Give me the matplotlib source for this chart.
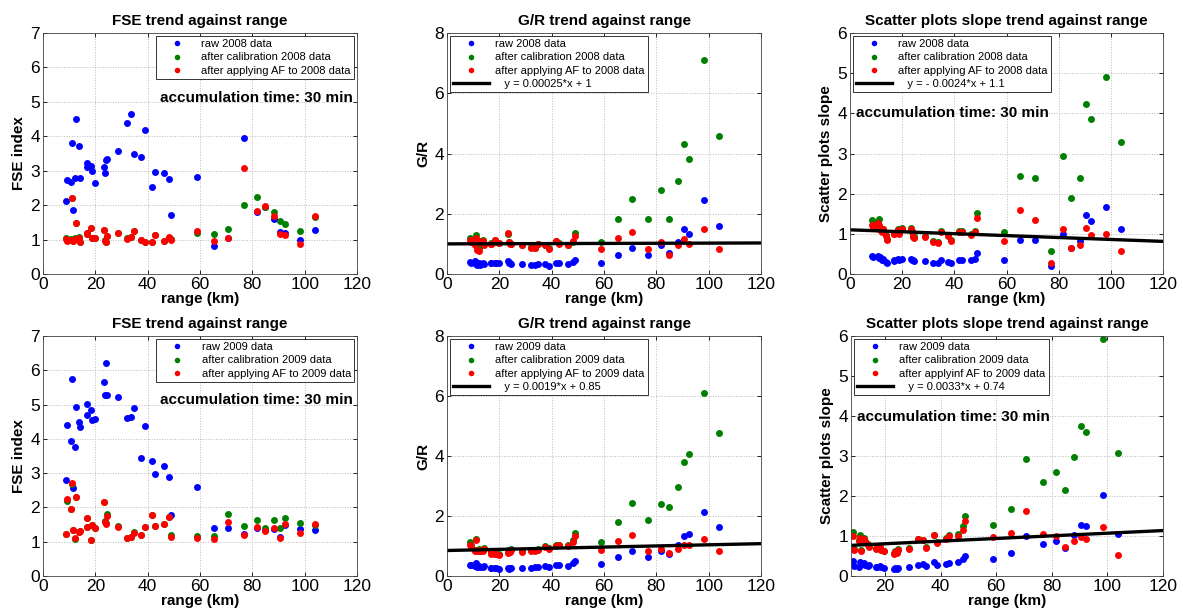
import numpy as np
import matplotlib
matplotlib.use("Agg")
import matplotlib.pyplot as plt

plt.rcParams['font.family'] = ['Liberation Sans', 'DejaVu Sans']

# station ranges (km), shared by all panels
ranges = [8.6, 9.0, 10.6, 11.1, 11.4, 12.4, 12.7, 13.9, 14.1, 16.7,
          17.0, 18.3, 18.6, 19.8, 23.2, 23.6, 24.2, 24.6, 28.8, 32.0,
          33.7, 34.8, 37.6, 38.8, 41.8, 42.9, 46.4, 48.1, 48.8, 58.9,
          65.2, 70.8, 76.9, 81.7, 84.9, 88.1, 90.5, 92.3, 98.3, 103.8]

# ---------------- 2008 ----------------
fse08_raw = [2.11, 2.74, 2.66, 3.80, 1.85, 2.79, 4.50, 3.71, 2.78, 3.21,
             3.12, 3.13, 3.00, 2.63, 3.10, 2.93, 3.30, 3.35, 3.56, 4.39,
             4.65, 3.48, 3.39, 4.17, 2.53, 2.95, 2.92, 2.75, 1.70, 2.81,
             0.81, 1.05, 3.96, 1.80, 1.95, 1.60, 1.21, 1.19, 1.00, 1.28]
fse08_cal = [1.05, 0.98, 1.01, 2.20, 0.96, 1.04, 1.47, 1.07, 0.94, 1.16,
             1.18, 1.34, 1.06, 1.05, 1.29, 0.98, 0.94, 1.11, 1.18, 1.05,
             1.07, 1.24, 0.99, 0.93, 0.93, 1.14, 0.96, 1.06, 1.01, 1.20,
             1.17, 1.31, 1.99, 2.25, 1.95, 1.79, 1.53, 1.45, 1.25, 1.66]
fse08_af = [1.03, 0.97, 1.00, 2.22, 0.95, 1.03, 1.47, 1.06, 0.93, 1.15,
            1.18, 1.34, 1.05, 1.05, 1.29, 0.97, 0.93, 1.11, 1.18, 1.03,
            1.07, 1.24, 0.98, 0.92, 0.92, 1.14, 0.95, 1.08, 1.00, 1.26,
            0.96, 1.06, 3.08, 1.82, 1.98, 1.68, 1.15, 1.13, 0.88, 1.69]

gr08_raw = [0.40, 0.38, 0.42, 0.33, 0.30, 0.36, 0.30, 0.38, 0.33, 0.35,
            0.36, 0.38, 0.35, 0.37, 0.42, 0.38, 0.35, 0.33, 0.32, 0.29,
            0.30, 0.33, 0.33, 0.27, 0.37, 0.35, 0.34, 0.40, 0.46, 0.37,
            0.63, 0.86, 0.64, 0.97, 0.70, 1.07, 1.49, 1.32, 2.45, 1.58]
gr08_cal = [1.20, 1.08, 1.00, 1.30, 0.88, 0.85, 1.10, 1.12, 0.98, 1.00,
            1.02, 1.12, 1.06, 1.03, 1.33, 1.06, 1.02, 0.99, 0.97, 0.88,
            0.87, 1.01, 0.97, 0.86, 1.10, 1.02, 0.97, 1.05, 1.37, 1.07,
            1.82, 2.49, 1.84, 2.80, 1.83, 3.10, 4.31, 3.81, 7.10, 4.58]
gr08_af = [1.12, 1.05, 0.95, 1.20, 0.80, 0.78, 1.05, 1.10, 0.95, 0.98,
           1.00, 1.12, 1.05, 1.02, 1.35, 1.05, 1.00, 0.98, 0.95, 0.85,
           0.85, 1.00, 0.95, 0.83, 1.08, 1.00, 0.95, 1.10, 1.25, 0.82,
           1.20, 1.40, 0.84, 1.06, 0.63, 0.95, 1.17, 0.98, 1.48, 0.83]

slope08_raw = [0.45, 0.42, 0.45, 0.40, 0.43, 0.35, 0.38, 0.30, 0.28, 0.33,
               0.35, 0.37, 0.35, 0.38, 0.38, 0.35, 0.34, 0.32, 0.32, 0.27,
               0.28, 0.35, 0.30, 0.27, 0.36, 0.35, 0.35, 0.37, 0.52, 0.36,
               0.84, 0.84, 0.20, 1.00, 0.65, 0.83, 1.46, 1.33, 1.68, 1.13]
slope08_cal = [1.35, 1.18, 1.30, 1.37, 1.15, 1.10, 1.13, 0.97, 0.87, 1.01,
               1.02, 1.11, 1.02, 1.14, 1.15, 1.06, 0.95, 0.94, 0.94, 0.81,
               0.79, 1.06, 0.96, 0.84, 1.06, 1.06, 1.00, 1.08, 1.51, 1.05,
               2.44, 2.40, 0.58, 2.93, 1.88, 2.38, 4.24, 3.87, 4.90, 3.28]
slope08_af = [1.22, 1.15, 1.27, 1.22, 1.10, 1.05, 1.12, 0.95, 0.85, 1.00,
              1.00, 1.10, 1.00, 1.13, 1.13, 1.05, 0.92, 0.90, 0.92, 0.80,
              0.78, 1.05, 0.95, 0.82, 1.05, 1.05, 0.98, 1.05, 1.40, 0.82,
              1.60, 1.35, 0.27, 1.12, 0.65, 0.72, 1.15, 0.98, 1.00, 0.58]

# ---------------- 2009 ----------------
fse09_raw = [2.80, 4.40, 3.95, 5.74, 2.56, 3.77, 4.94, 4.48, 4.34, 5.03,
             4.69, 4.84, 4.55, 4.59, 5.67, 5.28, 6.22, 5.28, 5.23, 4.60,
             4.63, 4.89, 3.43, 4.38, 3.36, 2.97, 3.22, 2.90, 1.77, 2.60,
             1.39, 1.41, 1.22, 1.40, 1.35, 1.38, 1.15, 1.50, 1.36, 1.33]
fse09_cal = [1.22, 2.18, 1.95, 2.67, 1.34, 1.08, 2.29, 1.28, 1.32, 1.68,
             1.44, 1.05, 1.48, 1.41, 2.15, 1.60, 1.55, 1.82, 1.47, 1.10,
             1.15, 1.27, 1.20, 1.44, 1.78, 1.46, 1.51, 1.73, 1.20, 1.18,
             1.18, 1.81, 1.46, 1.63, 1.40, 1.63, 1.40, 1.68, 1.56, 1.48]
fse09_af = [1.22, 2.24, 1.95, 2.72, 1.34, 1.10, 2.29, 1.28, 1.32, 1.68,
            1.44, 1.05, 1.48, 1.41, 2.17, 1.58, 1.51, 1.75, 1.42, 1.10,
            1.13, 1.25, 1.20, 1.44, 1.78, 1.46, 1.51, 1.73, 1.15, 1.10,
            1.07, 1.58, 1.20, 1.44, 1.31, 1.39, 1.10, 1.51, 1.26, 1.52]

gr09_raw = [0.38, 0.36, 0.33, 0.42, 0.30, 0.35, 0.30, 0.30, 0.32, 0.27,
            0.28, 0.26, 0.28, 0.24, 0.27, 0.25, 0.28, 0.28, 0.27, 0.27,
            0.29, 0.29, 0.33, 0.30, 0.36, 0.36, 0.35, 0.42, 0.50, 0.40,
            0.62, 0.85, 0.65, 0.84, 0.75, 1.05, 1.32, 1.40, 2.12, 1.65]
gr09_cal = [1.12, 1.02, 0.87, 1.25, 0.87, 0.90, 0.84, 0.87, 0.92, 0.77,
            0.82, 0.77, 0.74, 0.72, 0.80, 0.87, 0.82, 0.90, 0.82, 0.87,
            0.87, 0.90, 1.00, 0.92, 1.02, 1.04, 1.02, 1.20, 1.43, 1.12,
            1.79, 2.44, 1.87, 2.40, 2.31, 2.98, 3.79, 4.06, 6.09, 4.76]
gr09_af = [1.02, 1.00, 0.85, 1.20, 0.85, 0.88, 0.82, 0.85, 0.90, 0.75,
           0.80, 0.75, 0.72, 0.70, 0.78, 0.85, 0.80, 0.88, 0.80, 0.85,
           0.85, 0.88, 0.98, 0.90, 1.00, 1.02, 1.00, 1.15, 1.32, 0.86,
           1.18, 1.37, 0.85, 0.90, 0.78, 0.90, 1.02, 1.02, 1.25, 0.85]

slope09_raw = [0.37, 0.25, 0.22, 0.35, 0.30, 0.33, 0.28, 0.25, 0.27, 0.22,
               0.22, 0.24, 0.22, 0.20, 0.18, 0.20, 0.18, 0.19, 0.22, 0.28,
               0.30, 0.25, 0.35, 0.28, 0.30, 0.33, 0.35, 0.42, 0.50, 0.43,
               0.57, 1.00, 0.80, 0.88, 0.70, 1.02, 1.27, 1.25, 2.03, 1.05]
slope09_cal = [1.10, 0.68, 0.90, 1.03, 0.64, 0.94, 0.88, 0.80, 0.74, 0.69,
               0.71, 0.73, 0.66, 0.63, 0.58, 0.62, 0.60, 0.67, 0.70, 0.93,
               0.91, 0.72, 1.03, 0.84, 0.94, 1.02, 1.05, 1.24, 1.51, 1.27,
               1.68, 2.92, 2.35, 2.61, 2.16, 2.98, 3.74, 3.61, 5.92, 3.08]
slope09_af = [1.00, 0.65, 0.88, 0.95, 0.62, 0.92, 0.85, 0.78, 0.72, 0.68,
              0.70, 0.72, 0.65, 0.62, 0.55, 0.60, 0.58, 0.65, 0.68, 0.92,
              0.90, 0.70, 1.02, 0.82, 0.92, 1.00, 1.00, 1.15, 1.38, 0.97,
              1.08, 1.63, 1.05, 1.00, 0.72, 0.88, 0.98, 0.92, 1.22, 0.53]

# linear fits (slope, intercept) quoted in the legends
fit_gr08 = [0.00025, 1.0]
fit_slope08 = [-0.0024, 1.1]
fit_gr09 = [0.0019, 0.85]
fit_slope09 = [0.0033, 0.74]

W, H = 1183, 614
fig = plt.figure(figsize=(W / 100, H / 100), dpi=100)


def box(x0, y0, x1, y1):
    # pixel box -> figure fraction rect
    return [x0 / W, 1 - y1 / H, (x1 - x0) / W, (y1 - y0) / H]


def panel(rect, raw, cal, af, year, title, ylabel, ylim, ystep, fit=None,
          fit_label=None, af_word='applying', legend_loc='upper right',
          note=None, xlim=(0, 120)):
    ax = fig.add_axes(rect)
    ms = 5
    ax.plot(ranges, raw, 'o', color='#0000ff', ms=ms, mec='none',
            label='raw %d data' % year)
    ax.plot(ranges, cal, 'o', color='#008000', ms=ms, mec='none',
            label='after calibration %d data' % year)
    ax.plot(ranges, af, 'o', color='#ff0000', ms=ms, mec='none',
            label='after %s AF to %d data' % (af_word, year))
    if fit is not None:
        xx = np.array([xlim[0], 120])
        ax.plot(xx, np.polyval(fit, xx), color='black', lw=2.4, label=fit_label)
    ax.set_xlim(*xlim)
    ax.set_ylim(*ylim)
    ax.set_xticks([x for x in range(0, 121, 20) if x >= xlim[0]])
    ax.set_yticks(np.arange(ylim[0], ylim[1] + 0.01, ystep))
    ax.grid(True, ls=':', color='#bbbbbb', lw=0.7)
    ax.tick_params(direction='in', length=3, labelsize=12.5, width=0.6,
                   top=True, right=True, pad=2)
    for s in ax.spines.values():
        s.set_linewidth(0.6)
        s.set_color('#444444')
    ax.set_title(title, fontsize=11, fontweight='bold', pad=6)
    ax.set_ylabel(ylabel, fontsize=11, fontweight='bold', labelpad=3)
    ax.set_xlabel('range (km)', fontsize=11, fontweight='bold', labelpad=0)
    leg = ax.legend(loc=legend_loc, fontsize=8, frameon=True, fancybox=False,
                    framealpha=1, edgecolor='#333333', handlelength=3.2,
                    labelspacing=0.3, borderpad=0.3, borderaxespad=0.25,
                    handletextpad=0.6, markerscale=0.8)
    leg.get_frame().set_linewidth(0.7)
    if note is not None:
        nx, ny, ha = note
        ax.text(nx, ny, 'accumulation time: 30 min', fontsize=11,
                fontweight='bold', ha=ha, va='center')
    return ax


top = (33, 274)
bot = (336, 576)
cols = [(43, 357), (447, 761), (850, 1163)]

panel(box(cols[0][0], top[0], cols[0][1], top[1]), fse08_raw, fse08_cal, fse08_af,
      2008, 'FSE trend against range', 'FSE index', (0, 7), 1,
      note=(118.5, 5.1, 'right'))
panel(box(cols[1][0], top[0], cols[1][1], top[1]), gr08_raw, gr08_cal, gr08_af,
      2008, 'G/R trend against range', 'G/R', (0, 8), 2,
      fit=fit_gr08, fit_label='   y = 0.00025*x + 1', legend_loc='upper left')
panel(box(cols[2][0], top[0], cols[2][1], top[1]), slope08_raw, slope08_cal, slope08_af,
      2008, 'Scatter plots slope trend against range', 'Scatter plots slope', (0, 6), 1,
      fit=fit_slope08, fit_label='   y = - 0.0024*x + 1.1', legend_loc='upper left',
      note=(2.2, 4.0, 'left'))

panel(box(cols[0][0], bot[0], cols[0][1], bot[1]), fse09_raw, fse09_cal, fse09_af,
      2009, 'FSE trend against range', 'FSE index', (0, 7), 1,
      note=(118.5, 5.13, 'right'))
panel(box(cols[1][0], bot[0], cols[1][1], bot[1]), gr09_raw, gr09_cal, gr09_af,
      2009, 'G/R trend against range', 'G/R', (0, 8), 2,
      fit=fit_gr09, fit_label='   y = 0.0019*x + 0.85', legend_loc='upper left')
panel(box(851, bot[0], cols[2][1], bot[1]), slope09_raw, slope09_cal, slope09_af,
      2009, 'Scatter plots slope trend against range', 'Scatter plots slope', (0, 6), 1,
      fit=fit_slope09, fit_label='   y = 0.0033*x + 0.74', af_word='applyinf',
      legend_loc='upper left', note=(10.0, 3.97, 'left'), xlim=(7.8, 120))

fig.savefig('out.png', dpi=100)
